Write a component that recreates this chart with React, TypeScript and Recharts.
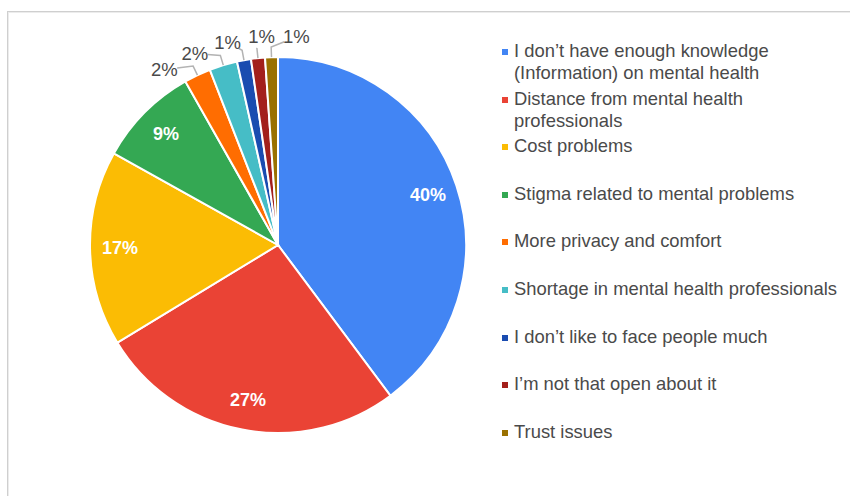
import { PieChart, Pie, Cell, Legend } from 'recharts';

const categories = [
  'I don\u2019t have enough knowledge (Information) on mental health',
  'Distance from mental health professionals',
  'Cost problems',
  'Stigma related to mental problems',
  'More privacy and comfort',
  'Shortage in mental health professionals',
  'I don\u2019t like to face people much',
  'I\u2019m not that open about it',
  'Trust issues',
];
const shares = [39.8, 26.5, 16.8, 8.7, 2.3, 2.4, 1.2, 1.2, 1.1];
const colors = ['#4285F4', '#EA4335', '#FBBC04', '#34A853', '#FF6D01', '#46BDC6', '#1A4CB0', '#A3201C', '#9A7100'];

const data = categories.map((name, i) => ({ name, value: shares[i] }));

const CX = 278;
const CY = 245;
const R = 188;
const RAD = Math.PI / 180;

// mid angle of each slice, degrees clockwise from 12 o'clock (range -180..180)
const total = shares.reduce((a, b) => a + b, 0);
const midAngles: number[] = [];
{
  let acc = 0;
  shares.forEach((v) => {
    let m = ((acc + v / 2) / total) * 360;
    if (m > 180) m -= 360;
    midAngles.push(m);
    acc += v;
  });
}

// spread the small outside labels apart
const smallIdx = shares.map((v, i) => i).filter((i) => shares[i] / total < 0.05);
const labelAngles: Record<number, number> = {};
{
  const sorted = [...smallIdx].sort((a, b) => midAngles[a] - midAngles[b]);
  const mean = sorted.reduce((a, i) => a + midAngles[i], 0) / sorted.length - 1.8;
  const sep = 9.5;
  sorted.forEach((i, k) => {
    labelAngles[i] = mean + (k - (sorted.length - 1) / 2) * sep;
  });
}

const pt = (angle: number, r: number) => ({
  x: CX + r * Math.sin(angle * RAD),
  y: CY - r * Math.cos(angle * RAD),
});

const FONT = 'Liberation Sans, Arial, sans-serif';

const renderLabel = (props: any) => {
  const { index } = props;
  const pct = `${Math.round((shares[index] / total) * 100)}%`;
  if (!(index in labelAngles)) {
    const p = pt(midAngles[index], 158);
    return (
      <text key={`l${index}`} x={p.x} y={p.y} fill="#fff" fontSize={18} fontWeight="bold"
        textAnchor="middle" dominantBaseline="central" fontFamily={FONT}>
        {pct}
      </text>
    );
  }
  const m = pt(midAngles[index], R);
  const e = pt(midAngles[index], R + 10);
  const l = pt(labelAngles[index], 209);
  const dx = e.x - l.x;
  const dy = e.y - l.y;
  const d = Math.sqrt(dx * dx + dy * dy) || 1;
  const p = { x: l.x + (dx / d) * 13, y: l.y + (dy / d) * 13 };
  return (
    <g key={`l${index}`}>
      <polyline points={`${m.x},${m.y} ${e.x},${e.y} ${p.x},${p.y}`} fill="none" stroke="#b3b3b3" strokeWidth={1.5} />
      <text x={l.x} y={l.y} fill="#4a4a4a" fontSize={18.5}
        textAnchor="middle" dominantBaseline="central" fontFamily={FONT}>
        {pct}
      </text>
    </g>
  );
};

const renderLegend = () => (
  <div style={{ position: 'relative', width: 850, height: 496, pointerEvents: 'none' }}>
    {categories.map((name, i) => (
      <div key={name} style={{
        position: 'absolute', left: 502, top: 40 + i * 47.6, display: 'flex', alignItems: 'flex-start',
      }}>
        <div style={{ width: 6, height: 6, background: colors[i], marginTop: 9, marginRight: 6, flexShrink: 0 }} />
        <div style={{
          width: 330, fontSize: 18.4, lineHeight: '22px', color: '#4a4a4a', fontFamily: FONT,
        }}>{name}</div>
      </div>
    ))}
  </div>
);

export default function App() {
  return (
    <div style={{ position: 'fixed', left: 0, top: 0, width: 850, height: 496, overflow: 'hidden', background: '#fff' }}>
      <div style={{
        position: 'absolute', left: 7, top: 11, width: 900, height: 600,
        border: '1px solid #cfcfcf', boxShadow: 'inset 1px 1px 0 #ececec',
      }} />
      <div style={{ position: 'absolute', left: 0, top: 0 }}>
        <PieChart width={850} height={496} margin={{ top: 0, right: 0, bottom: 0, left: 0 }}>
          <Pie
            data={data}
            dataKey="value"
            nameKey="name"
            cx={CX}
            cy={CY}
            outerRadius={R}
            startAngle={90}
            endAngle={-270}
            stroke="#fff"
            strokeWidth={2}
            labelLine={false}
            label={renderLabel}
            isAnimationActive={false}
          >
            {data.map((d, i) => (
              <Cell key={d.name} fill={colors[i]} />
            ))}
          </Pie>
          <Legend content={renderLegend} wrapperStyle={{ position: 'absolute', left: 0, top: 0, width: 850, height: 496 }} />
        </PieChart>
      </div>
    </div>
  );
}
